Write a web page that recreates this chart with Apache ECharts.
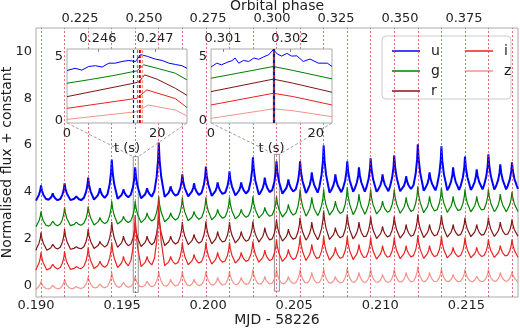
<!DOCTYPE html>
<html>
<head>
<meta charset="utf-8">
<script src="https://cdn.jsdelivr.net/npm/echarts@6/dist/echarts.min.js"></script>
</head>
<body style="margin:0">
<div id="main" style="width:520px;height:328px"></div>
<script>
// peak times (MJD - 58226), main beat pulses at even index, weaker ones between
var PEAK_T = [0.19029, 0.19097, 0.19166, 0.19234, 0.19303, 0.19371, 0.19440, 0.19508, 0.19576, 0.19645,
  0.19713, 0.19782, 0.19850, 0.19918, 0.19987, 0.20055, 0.20124, 0.20192, 0.20260, 0.20329,
  0.20397, 0.20466, 0.20534, 0.20602, 0.20671, 0.20739, 0.20808, 0.20876, 0.20944, 0.21013,
  0.21081, 0.21150, 0.21218, 0.21286, 0.21355, 0.21423, 0.21492, 0.21560, 0.21628, 0.21697, 0.21765];
// beat period markers (red dashed)
var VLINES = [0.19029, 0.19166, 0.19303, 0.19440, 0.19576, 0.19713, 0.19850, 0.19987, 0.20124, 0.20260,
  0.20397, 0.20534, 0.20671, 0.20808, 0.20944, 0.21081, 0.21218, 0.21355, 0.21492, 0.21628, 0.21765];

var U_PEAK = [4.27, 3.93, 4.36, 3.8, 4.6, 4.15, 5.38, 4.1, 5.04, 4.15, 6.1, 4.23, 4.74, 4.36, 5.08, 4.4, 4.87, 4.4, 5.47, 4.6,
  5.3, 4.53, 5.3, 4.83, 5.98, 4.74, 5.3, 5.04, 5.43, 4.74, 5.56, 4.66, 6.03, 4.83, 5.94, 5.04, 5.5, 4.96, 5.6, 5.17, 5.26];
var G_PEAK = [3.16, 2.74, 3.33, 2.7, 3.38, 2.9, 3.6, 2.95, 3.6, 3.1, 3.8, 3.1, 3.76, 3.16, 3.76, 3.25, 3.76, 3.25, 3.8, 3.33,
  3.8, 3.46, 4.1, 3.76, 4.1, 3.6, 4.2, 3.9, 4.1, 3.6, 4.1, 3.76, 4.23, 3.8, 4.17, 3.8, 4.1, 3.8, 4.1, 3.9, 4.0];
var R_PEAK = [2.26, 1.75, 2.4, 1.65, 2.4, 1.88, 2.7, 2.1, 2.65, 2.1, 3.1, 2.1, 2.7, 2.18, 2.74, 2.3, 2.7, 2.3, 2.74, 2.47,
  2.82, 2.4, 2.9, 2.7, 3.2, 2.47, 3.03, 2.7, 2.95, 2.52, 2.95, 2.6, 3.03, 2.6, 3.0, 2.6, 2.9, 2.6, 2.9, 2.7, 2.82];
var I_PEAK = [1.41, 0.9, 1.45, 0.8, 1.62, 1.03, 1.84, 1.24, 3.0, 1.24, 3.6, 1.24, 1.84, 1.32, 1.84, 1.41, 1.84, 1.41, 1.88, 1.5,
  1.97, 1.54, 2.1, 1.75, 2.1, 1.62, 2.1, 1.75, 2.05, 1.7, 2.05, 1.7, 2.14, 1.7, 2.1, 1.62, 2.05, 1.62, 1.97, 1.7, 1.97];
var Z_PEAK = [0.17, 0.0, 0.26, -0.05, 0.38, 0.05, 0.55, 0.13, 0.38, 0.17, 0.6, 0.26, 0.6, 0.26, 0.6, 0.34, 0.6, 0.34, 0.68, 0.38,
  0.68, 0.38, 0.68, 0.55, 0.7, 0.38, 0.75, 0.55, 0.68, 0.47, 0.68, 0.55, 0.8, 0.55, 0.7, 0.47, 0.68, 0.38, 0.68, 0.55, 0.6];

// levels between pulses
var U_VALLEY = [3.62, 3.62, 3.6, 3.64, 3.62, 3.66, 3.68, 3.7, 3.72, 3.72, 3.75, 3.78, 3.78, 3.8, 3.8, 3.82, 3.84, 3.84, 3.86, 3.88,
  3.9, 3.92, 3.94, 3.95, 3.96, 3.96, 3.98, 4.0, 4.0, 4.0, 4.02, 4.02, 4.04, 4.05, 4.06, 4.06, 4.08, 4.08, 4.1, 4.1, 4.1, 4.12];
var G_VALLEY = [2.5, 2.5, 2.52, 2.55, 2.55, 2.58, 2.6, 2.62, 2.65, 2.68, 2.7, 2.72, 2.75, 2.76, 2.78, 2.8, 2.82, 2.84, 2.86, 2.88,
  2.9, 2.92, 2.94, 2.96, 2.98, 3.0, 3.0, 3.02, 3.04, 3.05, 3.06, 3.08, 3.08, 3.1, 3.1, 3.12, 3.12, 3.14, 3.14, 3.15, 3.15, 3.16];
var R_VALLEY = [1.5, 1.5, 1.52, 1.54, 1.55, 1.57, 1.6, 1.62, 1.64, 1.66, 1.68, 1.7, 1.72, 1.74, 1.75, 1.77, 1.79, 1.81, 1.83, 1.85,
  1.87, 1.89, 1.91, 1.93, 1.95, 1.96, 1.97, 1.98, 1.99, 2.0, 2.01, 2.02, 2.03, 2.04, 2.05, 2.06, 2.07, 2.08, 2.08, 2.09, 2.1, 2.1];
var I_VALLEY = [0.65, 0.65, 0.67, 0.68, 0.7, 0.72, 0.74, 0.76, 0.78, 0.8, 0.82, 0.84, 0.86, 0.88, 0.9, 0.91, 0.93, 0.95, 0.97, 0.99,
  1.0, 1.02, 1.04, 1.06, 1.07, 1.08, 1.09, 1.1, 1.11, 1.12, 1.13, 1.14, 1.15, 1.15, 1.16, 1.17, 1.17, 1.18, 1.18, 1.19, 1.2, 1.2];
var Z_VALLEY = [-0.18, -0.18, -0.17, -0.16, -0.15, -0.14, -0.13, -0.12, -0.11, -0.1, -0.09, -0.08, -0.07, -0.06, -0.05, -0.04, -0.03, -0.02, -0.01, 0.0,
  0.01, 0.02, 0.03, 0.04, 0.04, 0.05, 0.06, 0.07, 0.07, 0.08, 0.08, 0.09, 0.09, 0.1, 0.1, 0.11, 0.11, 0.12, 0.12, 0.12, 0.13, 0.13];

var X_TICKS = [0.190, 0.195, 0.200, 0.205, 0.210, 0.215];
var Y_TICKS = [0, 2, 4, 6, 8, 10];
var PHASE_TICKS = [0.225, 0.250, 0.275, 0.300, 0.325, 0.350, 0.375];

// zoomed panels (t in seconds)
var IN1_T_U = [0, 1.8, 3.3, 4.8, 6.3, 7.8, 9.3, 10.7, 12.2, 13.7, 15.2, 16.3, 17.8, 19.6, 21.1, 22.6, 24, 25.5, 26.6];
var IN1_U = [3.93, 4.1, 3.96, 4.24, 4.3, 4.2, 4.5, 4.5, 4.63, 4.71, 4.63, 5.16, 5.03, 4.81, 4.71, 4.5, 4.4, 4.3, 4.1];
var IN1_T_G = [0, 5, 10, 14.8, 15.5, 17, 20, 24, 26.6];
var IN1_G = [2.94, 3.22, 3.52, 3.85, 3.9, 4.37, 4.1, 3.72, 3.2];
var IN1_T_R = [0, 14.8, 16, 17.2, 20, 24, 26.6];
var IN1_R = [1.9, 2.94, 3.05, 3.59, 3.25, 2.55, 2.0];
var IN1_T_I = [0, 15.5, 17.7, 24, 26.6];
var IN1_I = [0.99, 1.77, 2.42, 1.75, 1.05];
var IN1_T_Z = [0, 15.5, 18, 24, 26.6];
var IN1_Z = [0.13, 0.73, 1.25, 0.86, 0.4];
var IN1_MARKS = [14.7, 15.5, 16.0, 16.3, 16.6];

var IN2_T_U = [0, 1.1, 2, 3, 4, 4.6, 5.3, 6.2, 7.2, 8.2, 9.1, 10.1, 11, 11.9, 12.7, 13.5, 14.5, 15.4, 16.4, 17.6, 18.9, 20.5, 22.2, 23.1];
var IN2_U = [4.2, 4.5, 4.37, 4.55, 4.69, 4.9, 4.5, 4.71, 4.63, 4.9, 4.8, 5.0, 5.15, 5.55, 5.2, 5.05, 5.26, 5.05, 5.07, 4.63, 4.82, 4.5, 4.5, 4.24];
var IN2_T = [0, 11.9, 15.7, 23.1];
var IN2_G = [3.33, 4.24, 3.93, 3.28];
var IN2_R = [2.29, 3.26, 2.94, 2.24];
var IN2_I = [1.25, 2.16, 1.9, 1.25];
var IN2_Z = [0.21, 0.95, 0.8, 0.34];
var IN2_MARK = 11.9;

var BOX1 = [0.19565, 0.19594, -0.3, 5.5];
var BOX2 = [0.20385, 0.20414, -0.25, 5.6];

var COLORS = { u: '#0000ff', g: '#008000', r: '#7f1414', i: '#ee2020', z: '#f4938a' };
var FONT = 'DejaVu Sans';

var VALLEY_T = [0.190];
for (var k = 1; k < PEAK_T.length; k++) VALLEY_T.push((PEAK_T[k - 1] + PEAK_T[k]) / 2);
VALLEY_T.push(0.218);

// pulse profile: sharp top, wide wings
function band(peaks, valleys) {
  var pts = [[VALLEY_T[0], valleys[0]]];
  for (var k = 0; k < PEAK_T.length; k++) {
    var t = PEAK_T[k], h = peaks[k], vl = valleys[k], vr = valleys[k + 1];
    pts.push([t - 0.00025, vl + 0.12 * (h - vl)]);
    pts.push([t - 0.00012, vl + 0.38 * (h - vl)]);
    pts.push([t - 0.00004, vl + 0.68 * (h - vl)]);
    pts.push([t, h]);
    pts.push([t + 0.00005, vr + 0.68 * (h - vr)]);
    pts.push([t + 0.00014, vr + 0.38 * (h - vr)]);
    pts.push([t + 0.00028, vr + 0.12 * (h - vr)]);
    pts.push([VALLEY_T[k + 1], vr]);
  }
  return pts;
}
function pairs(ts, vs) { return ts.map(function (t, i) { return [t, vs[i]]; }); }

function mainSeries(name, data, width) {
  return {
    name: name, type: 'line', xAxisIndex: 0, yAxisIndex: 0, data: data,
    symbol: 'none', silent: true, z: 2,
    lineStyle: { color: COLORS[name], width: width }, itemStyle: { color: COLORS[name] }
  };
}
function insetSeries(name, data, xi, yi, mark, markStyle) {
  var s = {
    name: name, type: 'line', xAxisIndex: xi, yAxisIndex: yi, data: data,
    symbol: 'none', silent: true, z: 30,
    lineStyle: { color: COLORS[name], width: 1 }, itemStyle: { color: COLORS[name] }
  };
  if (mark != null) {
    s.markLine = {
      silent: true, symbol: 'none', label: { show: false }, z: 31, precision: 6,
      lineStyle: markStyle, data: [{ xAxis: mark }]
    };
  }
  return s;
}

var lbl = { fontFamily: FONT, fontSize: 13, color: '#222' };
var nameTs = { fontFamily: FONT, fontSize: 14, color: '#222' };

var chart = echarts.init(document.getElementById('main'));

var series = [
  mainSeries('u', band(U_PEAK, U_VALLEY), 2),
  mainSeries('g', band(G_PEAK, G_VALLEY), 1.2),
  mainSeries('r', band(R_PEAK, R_VALLEY), 1.2),
  mainSeries('i', band(I_PEAK, I_VALLEY), 1.2),
  mainSeries('z', band(Z_PEAK, Z_VALLEY), 1.2)
];
series[0].markArea = {
  silent: true,
  itemStyle: { color: 'rgba(0,0,0,0)', borderColor: '#777', borderWidth: 0.8 },
  data: [
    [{ coord: [BOX1[0], BOX1[2]] }, { coord: [BOX1[1], BOX1[3]] }],
    [{ coord: [BOX2[0], BOX2[2]] }, { coord: [BOX2[1], BOX2[3]] }]
  ]
};
series[4].markLine = {
  silent: true, symbol: 'none', label: { show: false }, precision: 6,
  lineStyle: { color: '#d03030', width: 0.8, type: [2, 2], opacity: 0.85 },
  data: VLINES.map(function (v) { return { xAxis: v }; })
};

var dash = function (c) { return { color: c, width: 1.2, type: [3, 2] }; };
series.push(
  insetSeries('u', pairs(IN1_T_U, IN1_U), 2, 1, IN1_MARKS[0], dash(COLORS.u)),
  insetSeries('g', pairs(IN1_T_G, IN1_G), 2, 1, IN1_MARKS[1], dash('#7a8a7a')),
  insetSeries('r', pairs(IN1_T_R, IN1_R), 2, 1, IN1_MARKS[2], dash(COLORS.r)),
  insetSeries('i', pairs(IN1_T_I, IN1_I), 2, 1, IN1_MARKS[3], dash(COLORS.i)),
  insetSeries('z', pairs(IN1_T_Z, IN1_Z), 2, 1, IN1_MARKS[4], dash(COLORS.z)),
  insetSeries('u', pairs(IN2_T_U, IN2_U), 4, 2, IN2_MARK, { color: '#1a1a80', width: 2.2, type: [3, 3] }),
  insetSeries('g', pairs(IN2_T, IN2_G), 4, 2),
  insetSeries('r', pairs(IN2_T, IN2_R), 4, 2),
  insetSeries('i', pairs(IN2_T, IN2_I), 4, 2, IN2_MARK, { color: '#c02020', width: 2.2, type: [3, 3], dashOffset: 3 }),
  insetSeries('z', pairs(IN2_T, IN2_Z), 4, 2)
);

function insetX(grid, max, pmin, pmax, pticks) {
  return [
    { gridIndex: grid, type: 'value', min: 0, max: max, position: 'bottom', z: 30,
      name: 't (s)', nameLocation: 'middle', nameGap: 19, nameTextStyle: lbl,
      axisLine: { show: false }, axisTick: { show: false }, splitLine: { show: false },
      axisLabel: Object.assign({ margin: 4, customValues: [0, 20] }, lbl) },
    { gridIndex: grid, type: 'value', min: pmin, max: pmax, position: 'top', z: 30,
      axisLine: { show: false }, splitLine: { show: false },
      axisTick: { show: true, length: 3, inside: true, lineStyle: { color: '#888' }, customValues: pticks },
      axisLabel: Object.assign({ margin: 4, customValues: pticks, formatter: function (v) { return v.toFixed(3); } }, lbl) }
  ];
}

var option = {
  animation: false,
  backgroundColor: '#fff',
  textStyle: { fontFamily: FONT },
  grid: [
    { left: 36, right: 2, top: 28, bottom: 31, show: true, borderColor: '#aaa', borderWidth: 1, backgroundColor: '#fff', outerBoundsMode: 'none' },
    { left: 67, top: 49, width: 120, height: 74, outerBoundsMode: 'none' },
    { left: 211, top: 49, width: 121, height: 74, outerBoundsMode: 'none' }
  ],
  xAxis: [
    { gridIndex: 0, type: 'value', min: 0.190, max: 0.218, position: 'bottom',
      name: 'MJD - 58226', nameLocation: 'middle', nameGap: 16, nameMoveOverlap: false, nameTextStyle: nameTs,
      axisLine: { show: false }, axisTick: { show: false }, splitLine: { show: false },
      axisLabel: Object.assign({ margin: 2, customValues: X_TICKS, formatter: function (v) { return v.toFixed(3); } }, lbl) },
    { gridIndex: 0, type: 'value', min: 0.2078, max: 0.3961, position: 'top',
      name: 'Orbital phase', nameLocation: 'middle', nameGap: 15, nameMoveOverlap: false, nameTextStyle: nameTs,
      axisLine: { show: false }, axisTick: { show: false }, splitLine: { show: false },
      axisLabel: Object.assign({ margin: 3, customValues: PHASE_TICKS, formatter: function (v) { return v.toFixed(3); } }, lbl) }
  ].concat(insetX(1, 26.6, 0.24546, 0.24756, [0.246, 0.247]))
   .concat(insetX(2, 23.1, 0.30082, 0.30263, [0.301, 0.302])),
  yAxis: [
    { gridIndex: 0, type: 'value', min: -0.5, max: 11,
      name: 'Normalised flux + constant', nameLocation: 'middle', nameGap: 22, nameMoveOverlap: false, nameTextStyle: nameTs,
      axisLine: { show: false }, axisTick: { show: false }, splitLine: { show: false },
      axisLabel: Object.assign({ margin: 4, customValues: Y_TICKS }, lbl) },
    { gridIndex: 1, type: 'value', min: -0.15, max: 5.6, z: 30,
      axisLine: { show: false }, axisTick: { show: false }, splitLine: { show: false },
      axisLabel: Object.assign({ margin: 4, customValues: [0, 5] }, lbl) },
    { gridIndex: 2, type: 'value', min: -0.15, max: 5.6, z: 30,
      axisLine: { show: false }, axisTick: { show: false }, splitLine: { show: false },
      axisLabel: Object.assign({ margin: 4, customValues: [0, 5] }, lbl) }
  ],
  legend: [
    { data: ['u', 'g', 'r'], orient: 'vertical', left: 387, top: 39, icon: 'rect', itemWidth: 28, itemHeight: 1.5, itemGap: 6,
      textStyle: { fontFamily: FONT, fontSize: 14, lineHeight: 14, color: '#222', padding: [0, 0, 0, 6] }, z: 4 },
    { data: ['i', 'z'], orient: 'vertical', left: 460, top: 39, icon: 'rect', itemWidth: 28, itemHeight: 1.5, itemGap: 6,
      textStyle: { fontFamily: FONT, fontSize: 14, lineHeight: 14, color: '#222', padding: [0, 0, 0, 6] }, z: 4 }
  ],
  graphic: { elements: [
    { id: 'legbox', type: 'rect', z: 3, silent: true, shape: { x: 382, y: 36, width: 129, height: 63, r: 4 },
      style: { fill: 'rgba(255,255,255,0.55)', stroke: '#ccc', lineWidth: 1 } },
    { id: 'in1', type: 'rect', z: 20, silent: true, shape: { x: 67, y: 49, width: 120, height: 74 },
      style: { fill: '#fff', stroke: '#aaa', lineWidth: 1 } },
    { id: 'in2', type: 'rect', z: 20, silent: true, shape: { x: 211, y: 49, width: 121, height: 74 },
      style: { fill: '#fff', stroke: '#aaa', lineWidth: 1 } }
  ] },
  series: series
};
chart.setOption(option);

// connector lines from each inset to its box on the main panel
function px(xi, yi, v) { return chart.convertToPixel({ xAxisIndex: xi, yAxisIndex: yi }, v); }
var conn = [];
[[2, 1, 26.6, BOX1], [4, 2, 23.1, BOX2]].forEach(function (c, n) {
  var bl = px(c[0], c[1], [0, -0.15]), br = px(c[0], c[1], [c[2], -0.15]);
  var tl = px(0, 0, [c[3][0], c[3][3]]), tr = px(0, 0, [c[3][1], c[3][3]]);
  [[bl, tl], [br, tr]].forEach(function (p, m) {
    conn.push({ id: 'c' + n + m, type: 'line', z: 15, silent: true,
      shape: { x1: p[0][0], y1: p[0][1], x2: p[1][0], y2: p[1][1] },
      style: { stroke: '#888', lineWidth: 0.8, lineDash: [3, 2] } });
  });
});
chart.setOption({ graphic: { elements: conn } });
</script>
</body>
</html>
